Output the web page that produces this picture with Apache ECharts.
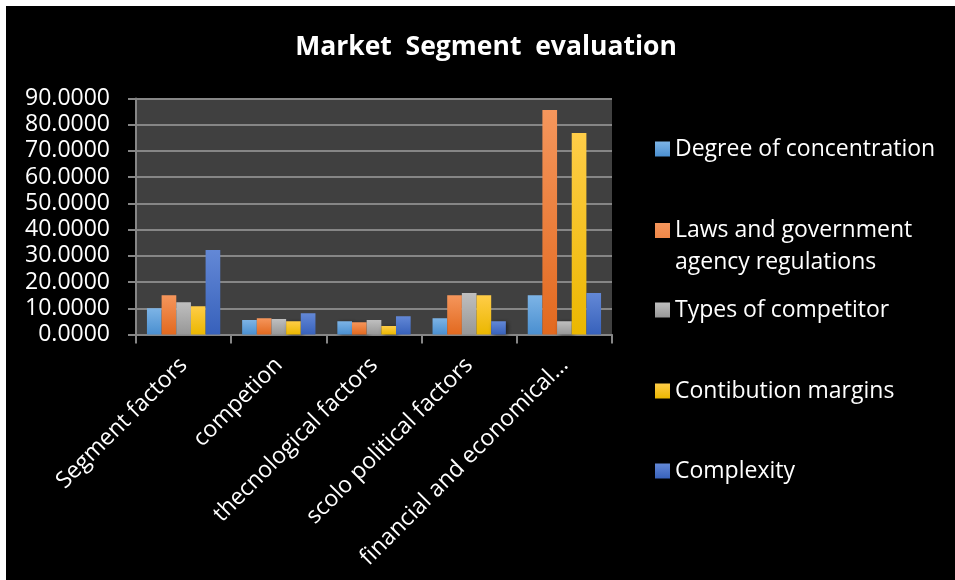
<!DOCTYPE html>
<html><head><meta charset="utf-8">
<script src="https://cdn.jsdelivr.net/npm/echarts@6/dist/echarts.min.js"></script>
<style>
html,body{margin:0;padding:0;background:#fff;width:955px;height:580px;overflow:hidden}
#c{position:absolute;left:6px;top:6px;width:949px;height:574px;background:#000}
</style></head>
<body><div id="c"></div>
<script>
const categories = ["Segment factors", "competion", "thecnological factors", "scolo political factors", "financial and economical…"];
const seriesNames = ["Degree of concentration", "Laws and government agency regulations", "Types of competitor", "Contibution margins", "Complexity"];
const degreeOfConcentration = [10.0, 5.5, 5.1, 6.2, 15.0];
const lawsAndRegulations = [15.0, 6.2, 4.7, 15.0, 85.6];
const typesOfCompetitor = [12.3, 5.9, 5.5, 15.8, 5.1];
const contributionMargins = [10.8, 5.1, 3.2, 15.0, 76.8];
const complexity = [32.2, 8.1, 7.0, 5.1, 15.8];
const yTicks = [0, 10, 20, 30, 40, 50, 60, 70, 80, 90];

const values = [degreeOfConcentration, lawsAndRegulations, typesOfCompetitor, contributionMargins, complexity];
const grads = [["#7db4e6", "#4a8fd0"], ["#f5965c", "#e2691f"], ["#bfbfbf", "#979797"], ["#ffcd48", "#ebb700"], ["#6388d6", "#3761bb"]];
const legendTops = [148, 229, 309, 390, 470];
const font = "'Open Sans', sans-serif";

const chart = echarts.init(document.getElementById('c'), null, {renderer: 'canvas'});
const legends = seriesNames.map((n, i) => {
  const two = i === 1;
  return {
    data: [n],
    orient: 'vertical',
    left: 644,
    top: legendTops[i] - 26,
    itemWidth: 15,
    itemHeight: two ? 46 : 15,
    itemGap: 8,
    icon: two ? 'path://M0,0H15V15H0Z M0,46L0.1,46L0,46Z' : 'rect',
    formatter: two ? 'Laws and government\nagency regulations' : '{name}',
    selectedMode: false,
    textStyle: {color: '#fff', fontSize: 23, fontFamily: font, lineHeight: 32, padding: [0,0,0,0]}
  };
});
chart.setOption({
  backgroundColor: '#000',
  title: {
    text: 'Market  Segment  evaluation',
    left: 475, top: 36, textAlign: 'center', textVerticalAlign: 'middle',
    textStyle: {color: '#fff', fontSize: 26.5, fontWeight: 'bold', fontFamily: font}
  },
  legend: legends,
  grid: {left: 130, top: 92.5, width: 476, height: 236, backgroundColor: '#404040', show: true, borderWidth: 0},
  xAxis: {
    type: 'category', data: categories,
    axisLine: {lineStyle: {color: '#868686', width: 2}},
    axisTick: {show: true, length: 9, lineStyle: {color: '#868686', width: 2}},
    axisLabel: {rotate: 45, color: '#fff', fontSize: 23, fontFamily: font, margin: 27, interval: 0}
  },
  yAxis: {
    type: 'value', min: 0, max: 90, interval: 10,
    axisLine: {show: true, lineStyle: {color: '#868686', width: 2}},
    axisTick: {show: true, length: 8, lineStyle: {color: '#868686', width: 2}},
    splitLine: {lineStyle: {color: '#868686', width: 2}},
    axisLabel: {color: '#fff', fontSize: 23, fontFamily: font, margin: 26,
      formatter: v => yTicks.includes(v) ? v.toFixed(4) : ''}
  },
  series: seriesNames.map((n, i) => ({
    name: n, type: 'bar', data: values[i],
    barGap: '0%', barCategoryGap: '23%',
    itemStyle: {
      color: new echarts.graphic.LinearGradient(0, 0, 0, 1, [{offset: 0, color: grads[i][0]}, {offset: 1, color: grads[i][1]}]),
      shadowColor: 'rgba(0,0,0,0.55)', shadowBlur: 4, shadowOffsetX: 2, shadowOffsetY: 1
    },
    emphasis: {disabled: true}
  }))
});
</script></body></html>
